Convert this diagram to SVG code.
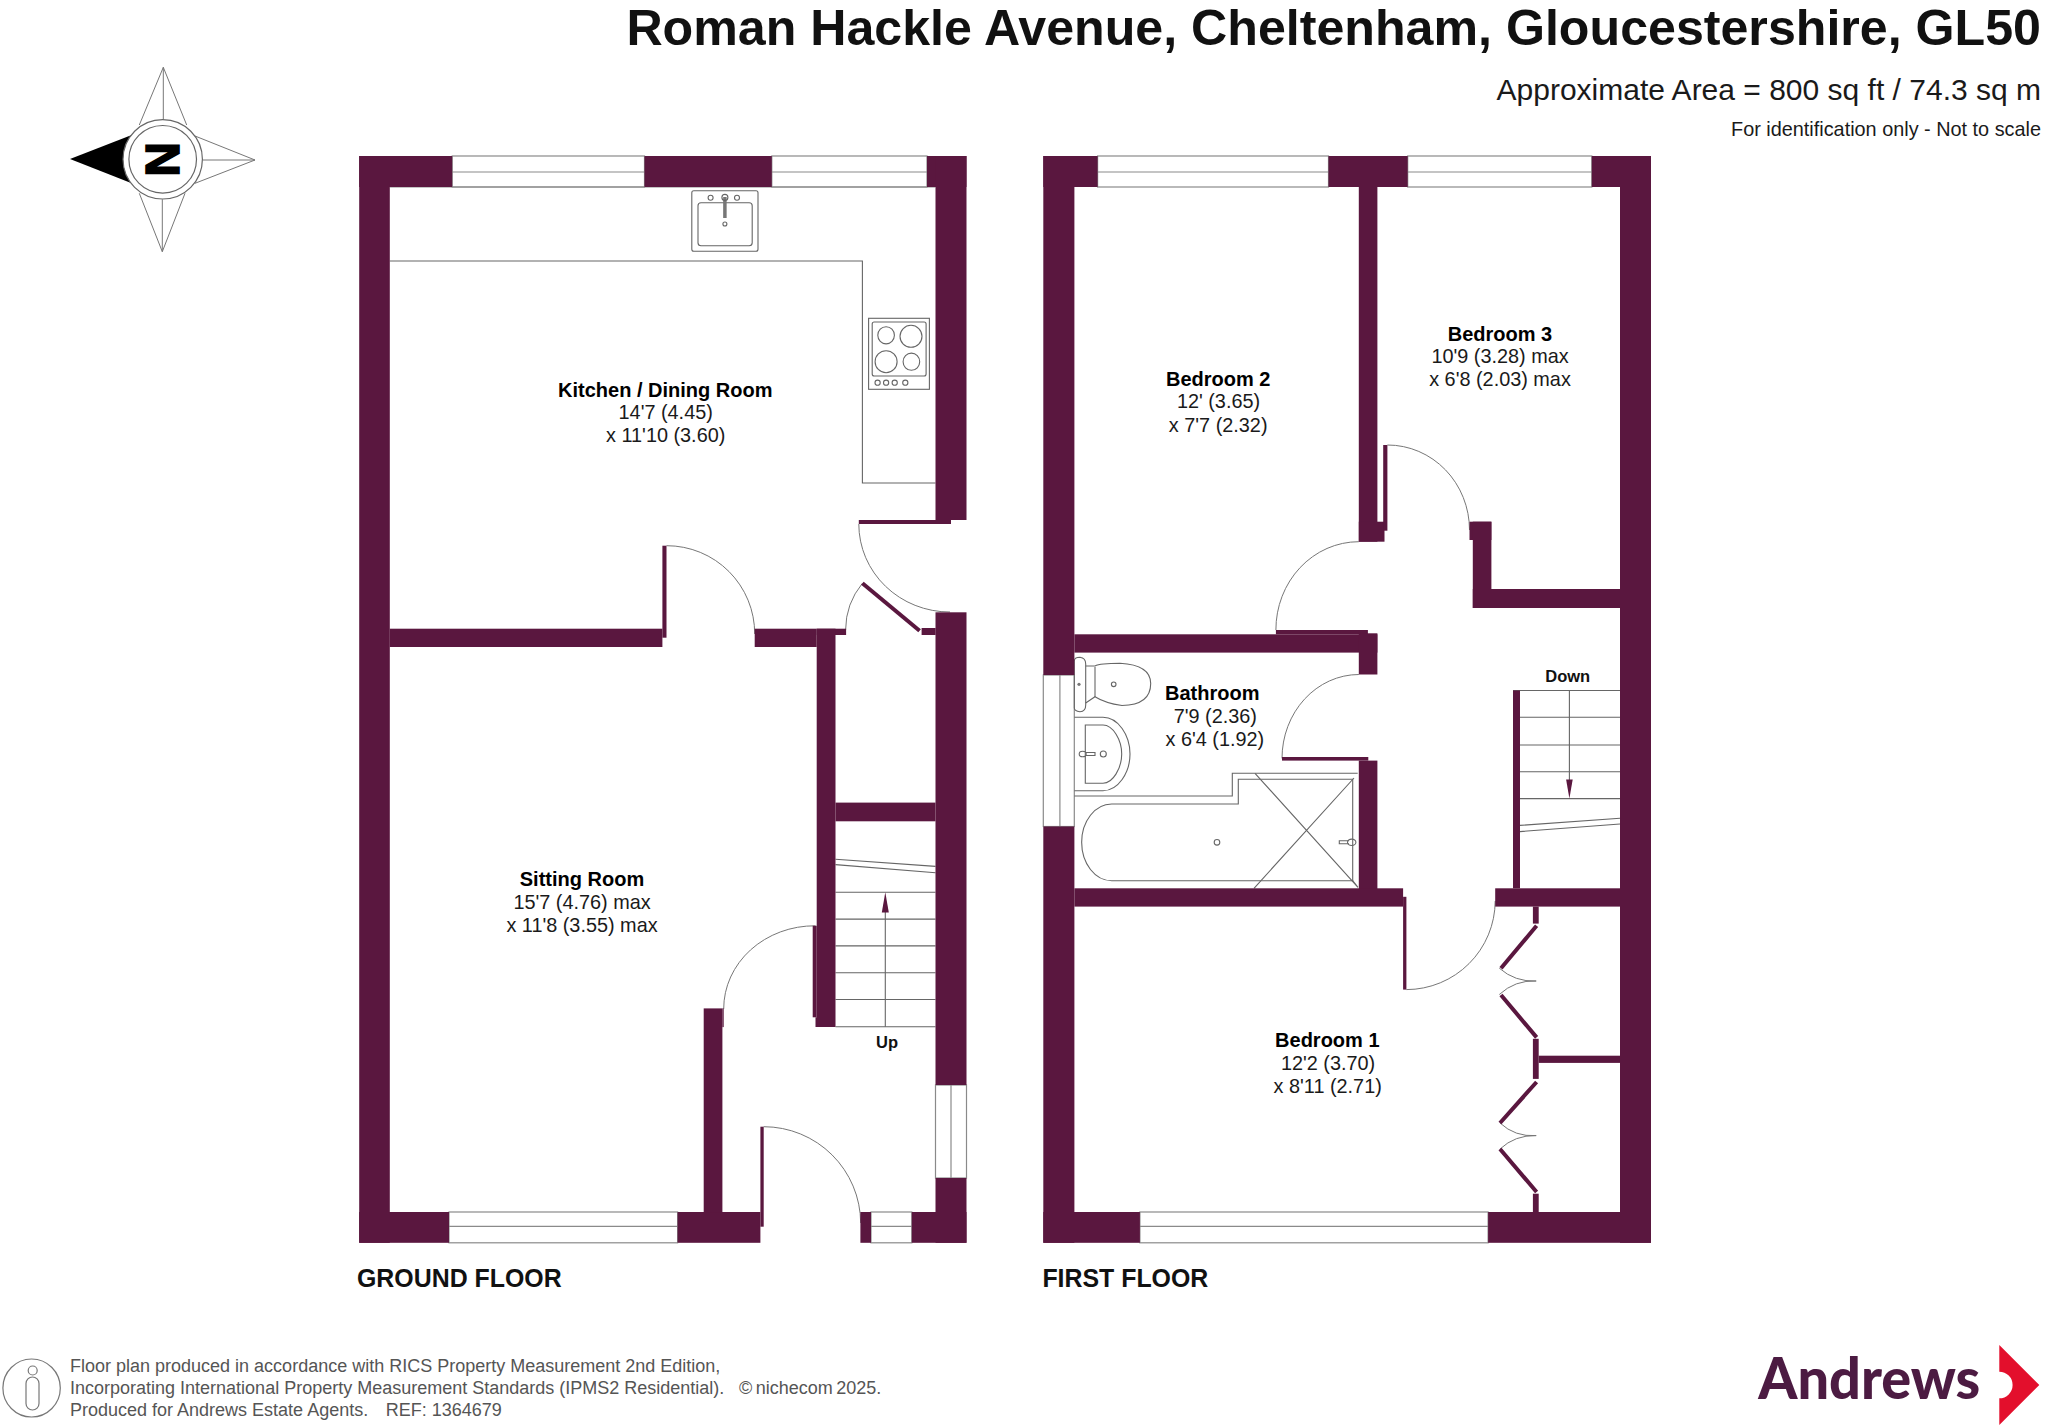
<svg xmlns="http://www.w3.org/2000/svg" width="2048" height="1427" viewBox="0 0 2048 1427">
<style>
text{font-family:"Liberation Sans",Arial,sans-serif;fill:#1a1a1a}
.b{font-weight:700;font-size:20px;text-anchor:middle;fill:#000}
.r{font-size:19.85px;text-anchor:middle}
.s{font-weight:700;font-size:16.5px;text-anchor:middle;fill:#111}
.fl{font-weight:700;font-size:24.9px;fill:#111}
.ft{font-size:18px;fill:#555}
.w rect{fill:#5a173f}
.l{fill:none;stroke:#8a8a8a;stroke-width:1.2}
.t{fill:none;stroke:#777;stroke-width:1}
.d{fill:none;stroke:#5a173f;stroke-width:4}
.f{fill:#fff;stroke:#8a8a8a;stroke-width:1.2}
.c{fill:none;stroke:#666;stroke-width:1.1}
</style>
<rect width="2048" height="1427" fill="#fff"/>

<g id="header">
<text x="2041" y="45" text-anchor="end" style="font-size:50.15px;font-weight:700;fill:#111">Roman Hackle Avenue, Cheltenham, Gloucestershire, GL50</text>
<text x="2041" y="100" text-anchor="end" style="font-size:30px">Approximate Area = 800 sq ft / 74.3 sq m</text>
<text x="2041" y="135.5" text-anchor="end" style="font-size:19.85px">For identification only - Not to scale</text>
</g>

<g id="compass">
<path class="t" d="M139.3,125 L163.3,67.3 L186.7,125 M163.3,67.3 V121"/>
<path class="t" d="M195,136 L255,160 L195,183.3 M203,160 H255"/>
<path class="t" d="M139.3,193.3 L162.3,251.7 L185,193.3 M162.3,199.3 V251.7"/>
<path d="M70,159 L131.7,135 L131.7,183.3 Z" fill="#000"/>
<circle cx="162.7" cy="159.3" r="39.7" fill="#fff" stroke="#666" stroke-width="1.2"/>
<circle cx="162.7" cy="159.3" r="33.8" fill="#fff" stroke="#666" stroke-width="1.2"/>
<text transform="translate(162.2,159.3) rotate(-90)" y="17" text-anchor="middle" style="font-size:47.5px;font-weight:700;fill:#000;stroke:#000;stroke-width:1.6">N</text>
</g>

<g id="ground-floor">
<g id="ground-windows">
<rect class="f" x="452.2" y="156" width="192.3" height="31"/><path class="l" d="M452.2,172 H644.5"/>
<rect class="f" x="771.8" y="156" width="155.2" height="31"/><path class="l" d="M771.8,172 H927"/>
<rect class="f" x="449" y="1212" width="228.6" height="30.8"/><path class="l" d="M449,1226.3 H677.6"/>
<rect class="f" x="871" y="1212" width="40.8" height="30.8"/><path class="l" d="M871,1226.3 H911.8"/>
<rect class="f" x="935.5" y="1085" width="31" height="93"/><path class="l" d="M951,1085 V1178"/>
</g>
<g id="kitchen-fittings">
<path class="l" d="M389.8,187 H935.5"/>
<path class="c" d="M389.8,261 H862.4 V483 H935.5"/>
<rect class="c" x="691.8" y="190.7" width="66.2" height="60.6" rx="2"/>
<rect class="c" x="698" y="202.7" width="54.2" height="43" rx="3"/>
<path d="M724.9,197 V218" stroke="#777" stroke-width="3.5" fill="none"/>
<circle class="c" cx="724.9" cy="197.4" r="3"/><circle class="c" cx="710.6" cy="197.7" r="2.5"/><circle class="c" cx="737" cy="197.7" r="2.5"/>
<circle class="c" cx="724.9" cy="224" r="2"/>
<rect class="c" x="868.6" y="318.3" width="60.8" height="71"/>
<rect class="c" x="872.2" y="322" width="53.9" height="54" rx="2"/>
<ellipse class="c" cx="886.1" cy="335.3" rx="8.3" ry="8.6"/><ellipse class="c" cx="911" cy="336.3" rx="11" ry="11"/>
<ellipse class="c" cx="886.1" cy="361.7" rx="11" ry="11"/><ellipse class="c" cx="911.4" cy="361.7" rx="8.3" ry="8.6"/>
<circle class="c" cx="877.6" cy="382.7" r="2.6"/><circle class="c" cx="886.1" cy="382.7" r="2.6"/><circle class="c" cx="894.7" cy="382.7" r="2.6"/><circle class="c" cx="905.3" cy="382.7" r="2.6"/>
</g>
<g id="ground-doors">
<path class="t" d="M666.5,545.7 A88,88 0 0 1 754.7,634"/>
<path class="t" d="M858.8,524 A91,88 0 0 0 950,612"/>
<path class="t" d="M862.4,583.3 A74,74 0 0 0 845.6,630"/>
<path class="t" d="M815.5,925.8 A91,83 0 0 0 723.7,1009"/>
<path class="t" d="M763.7,1126.7 A97,97 0 0 1 860.7,1223"/>
<path class="d" d="M862.4,583.3 L919.6,630.7"/>
</g>
<g id="ground-stairs">
<path class="c" d="M835.5,859.3 L935.5,866.4 M835.5,864.6 L935.5,872.7 M835.5,892.3 H935.5 M835.5,919.1 H935.5 M835.5,945.9 H935.5 M835.5,972.7 H935.5 M835.5,999.5 H935.5 M835.5,1026.7 H935.5"/>
<path class="c" d="M885.3,1026.7 V900"/>
<polygon points="885.3,892.3 881.8,912.4 888.8,912.4" fill="#5a173f"/>
</g>
<g id="ground-walls" class="w">
<rect x="359.2" y="156" width="30.6" height="1086.8"/>
<rect x="359.2" y="156" width="93" height="31"/>
<rect x="644.5" y="156" width="127.3" height="31"/>
<rect x="927" y="156" width="39.5" height="31"/>
<rect x="935.5" y="156" width="31" height="364"/>
<rect x="858.8" y="520" width="92.2" height="4"/>
<rect x="935.5" y="612.3" width="31" height="472.7"/>
<rect x="935.5" y="1178" width="31" height="64.8"/>
<rect x="359.2" y="1212" width="89.8" height="30.8"/>
<rect x="677.6" y="1212" width="82.8" height="30.8"/>
<rect x="860.4" y="1212" width="10.6" height="30.8"/>
<rect x="911.8" y="1212" width="54.7" height="30.8"/>
<rect x="389.8" y="628.7" width="272.6" height="18.3"/>
<rect x="662.4" y="545.7" width="4.1" height="92"/>
<rect x="754.7" y="628.7" width="62" height="18.3"/>
<rect x="816.7" y="628.7" width="29.4" height="6.3"/>
<rect x="816.7" y="628.7" width="18.8" height="398.3"/>
<rect x="812.7" y="925.8" width="4" height="91.5"/>
<rect x="815.5" y="1017.3" width="4" height="9.7"/>
<rect x="835.5" y="802.6" width="100" height="18.7"/>
<rect x="703.7" y="1008.4" width="18.7" height="204"/>
<rect x="722.4" y="1008.4" width="1.3" height="18.7"/>
<rect x="760.4" y="1126.7" width="3.3" height="100"/>
<rect x="921.6" y="628" width="14" height="7"/>
</g>
<g id="kitchen-label"><text class="b" x="665.3" y="396.5">Kitchen / Dining Room</text><text class="r" x="665.7" y="419.3">14'7 (4.45)</text><text class="r" x="665.7" y="441.7">x 11'10 (3.60)</text></g>
<g id="sitting-label"><text class="b" x="582" y="886.3">Sitting Room</text><text class="r" x="582" y="909">15'7 (4.76) max</text><text class="r" x="582" y="931.6">x 11'8 (3.55) max</text></g>
<text class="s" x="887" y="1047.5">Up</text>
<text class="fl" x="357" y="1287">GROUND FLOOR</text>
</g>

<g id="first-floor">
<g id="first-windows">
<rect class="f" x="1097.6" y="156" width="230.9" height="31"/><path class="l" d="M1097.6,172 H1328.5"/>
<rect class="f" x="1407.7" y="156" width="184.1" height="31"/><path class="l" d="M1407.7,172 H1591.8"/>
<rect class="f" x="1139.9" y="1212" width="348.2" height="30.8"/><path class="l" d="M1139.9,1226.3 H1488.1"/>
<rect class="f" x="1043.3" y="675" width="31" height="151.5"/><path class="l" d="M1059.9,675 V826.5"/>
</g>
<g id="bathroom-fittings">
<path class="c" d="M1074.3,661 Q1074.3,657.3 1080,657.3 Q1085.7,658 1085.7,664 V705 Q1085.7,711.7 1080,711.7 Q1074.3,711 1074.3,708 Z"/>
<path class="c" d="M1085.7,666 H1095 Q1100,663.3 1120,663.3 Q1150.7,665 1150.7,683.5 Q1150.7,705 1122,705.5 Q1105,703 1095,696.7 L1085.7,703"/>
<path d="M1095,667 V697" class="c"/>
<circle class="c" cx="1113.7" cy="684.3" r="2.3"/><circle cx="1079" cy="684.3" r="1.6" fill="#777"/>
<path class="c" d="M1074.3,717.3 H1103 C1118,717.3 1130,735 1130,754 C1130,773 1118,790.7 1103,790.7 H1074.3"/>
<path class="c" d="M1085.3,725 H1103 C1113,725 1121.7,740 1121.7,754 C1121.7,768 1113,783.3 1103,783.3 H1085.3 Z"/>
<ellipse class="c" cx="1082.7" cy="754" rx="3.5" ry="2.8"/><path class="c" d="M1085,752.5 H1095 V755.5 H1085"/><circle class="c" cx="1103.3" cy="754" r="3"/>
<path class="c" d="M1074.3,796 H1232.3 V773.3 H1357.7"/>
<path class="c" d="M1111.7,804 H1238.3 V779.3 H1352.7 V880.7 H1111.7 A30,38.3 0 0 1 1111.7,804 Z"/>
<path class="c" d="M1352.7,880.7 L1358,887.3 M1255,773.3 L1358,887.3 M1354,778 L1254,888.3"/>
<circle class="c" cx="1217" cy="842.3" r="2.8"/>
<ellipse class="c" cx="1351.7" cy="842.3" rx="4.2" ry="3.2"/><path class="c" d="M1349,840.8 H1339.3 V843.8 H1349"/>
</g>
<g id="first-doors">
<path class="t" d="M1387.4,445 A82,85 0 0 1 1469.5,530"/>
<path class="t" d="M1358.8,541.7 A83,88 0 0 0 1275.9,630"/>
<path class="t" d="M1358.8,674.5 A77,84 0 0 0 1282,758.4"/>
<path class="t" d="M1406.4,989.6 A89,89 0 0 0 1495.2,901"/>
<path class="t" d="M1499.3,968.2 Q1515,982 1536.2,981 Q1515,980 1499.3,994.5"/>
<path class="t" d="M1500,1123 Q1515,1137 1536.2,1135.6 Q1515,1135 1500,1149"/>
<path class="d" d="M1536.6,925.8 L1501,968.2 M1501,995 L1536.6,1037.4 M1536.6,1082 L1500,1123 M1500,1149 L1536.6,1192"/>
</g>
<g id="first-stairs">
<path class="c" d="M1513,690.5 H1620 M1520,717.3 H1620 M1520,745 H1620 M1520,771.8 H1620 M1520,798.6 H1620 M1520,825.4 L1620,818.2 M1520,831.6 L1620,824"/>
<path class="c" d="M1569.4,690.5 V785"/>
<polygon points="1569.4,798.6 1566.1,779.4 1572.7,779.4" fill="#5a173f"/>
</g>
<g id="first-walls" class="w">
<rect x="1043.3" y="156" width="31.1" height="519"/>
<rect x="1043.3" y="826.5" width="31.1" height="416.3"/>
<rect x="1043.3" y="156" width="54.3" height="31"/>
<rect x="1328.5" y="156" width="79.2" height="31"/>
<rect x="1591.8" y="156" width="59.2" height="31"/>
<rect x="1620" y="156" width="31" height="1086.8"/>
<rect x="1043.3" y="1212" width="96.6" height="30.8"/>
<rect x="1488.1" y="1212" width="162.9" height="30.8"/>
<rect x="1358.8" y="187" width="18.6" height="354.7"/>
<rect x="1358.8" y="521.7" width="25.7" height="20"/>
<rect x="1383.2" y="445" width="4.2" height="85.7"/>
<rect x="1469.5" y="521.7" width="21.9" height="18.3"/>
<rect x="1472.8" y="521.7" width="18.6" height="86.3"/>
<rect x="1472.8" y="589" width="147.2" height="19"/>
<rect x="1275.9" y="630" width="92" height="4.3"/>
<rect x="1074.4" y="634.3" width="303" height="18.3"/>
<rect x="1358.8" y="633.3" width="18.6" height="41.2"/>
<rect x="1282" y="757" width="86.3" height="3.6"/>
<rect x="1358.8" y="760.6" width="18.6" height="145"/>
<rect x="1074.4" y="888.3" width="328.7" height="18.3"/>
<rect x="1403.1" y="896.8" width="3.3" height="92.8"/>
<rect x="1495.2" y="888.3" width="124.8" height="18.3"/>
<rect x="1513" y="690.5" width="7" height="197.8"/>
<rect x="1532.9" y="906.6" width="5.8" height="17"/>
<rect x="1532.9" y="1038.8" width="5.8" height="40.1"/>
<rect x="1532.9" y="1193.7" width="5.8" height="18.3"/>
<rect x="1538.7" y="1055.7" width="81.3" height="7.2"/>
</g>
<g id="bedroom2-label"><text class="b" x="1218.2" y="386">Bedroom 2</text><text class="r" x="1218.5" y="408.3">12' (3.65)</text><text class="r" x="1218.2" y="431.7">x 7'7 (2.32)</text></g>
<g id="bedroom3-label"><text class="b" x="1500" y="340.7">Bedroom 3</text><text class="r" x="1500" y="363.3">10'9 (3.28) max</text><text class="r" x="1500" y="385.7">x 6'8 (2.03) max</text></g>
<g id="bathroom-label"><text class="b" x="1212.2" y="700">Bathroom</text><text class="r" x="1215.3" y="722.5">7'9 (2.36)</text><text class="r" x="1214.8" y="745.7">x 6'4 (1.92)</text></g>
<g id="bedroom1-label"><text class="b" x="1327.3" y="1047.4">Bedroom 1</text><text class="r" x="1328" y="1070">12'2 (3.70)</text><text class="r" x="1327.7" y="1093">x 8'11 (2.71)</text></g>
<text class="s" x="1567.7" y="681.6">Down</text>
<text class="fl" x="1042.4" y="1287">FIRST FLOOR</text>
</g>

<g id="footer">
<ellipse cx="31.6" cy="1388" rx="28.7" ry="29" fill="none" stroke="#777" stroke-width="1.2"/>
<circle cx="32.7" cy="1370.5" r="4.5" fill="none" stroke="#777" stroke-width="1.2"/>
<rect x="26" y="1377" width="13" height="33" rx="6.5" fill="none" stroke="#777" stroke-width="1.2"/>
<text class="ft" x="70" y="1372.3">Floor plan produced in accordance with RICS Property Measurement 2nd Edition,</text>
<text class="ft" x="70" y="1394.3">Incorporating International Property Measurement Standards (IPMS2 Residential).<tspan x="739" style="word-spacing:-1.5px">© nichecom 2025.</tspan></text>
<text class="ft" x="70" y="1415.5">Produced for Andrews Estate Agents.<tspan x="385.8">REF: 1364679</tspan></text>
</g>

<g id="logo">
<text x="1758.3" y="1399" textLength="222" lengthAdjust="spacingAndGlyphs" style="font-family:Lato,'Liberation Sans',sans-serif;font-size:57px;font-weight:900;fill:#4c1b42">Andrews</text>
<path d="M1999.3,1345 L2039.3,1385 L1999.3,1425 V1398.3 A13.3,13.3 0 0 0 1999.3,1371.7 Z" fill="#e30f2c"/>
</g>
</svg>
